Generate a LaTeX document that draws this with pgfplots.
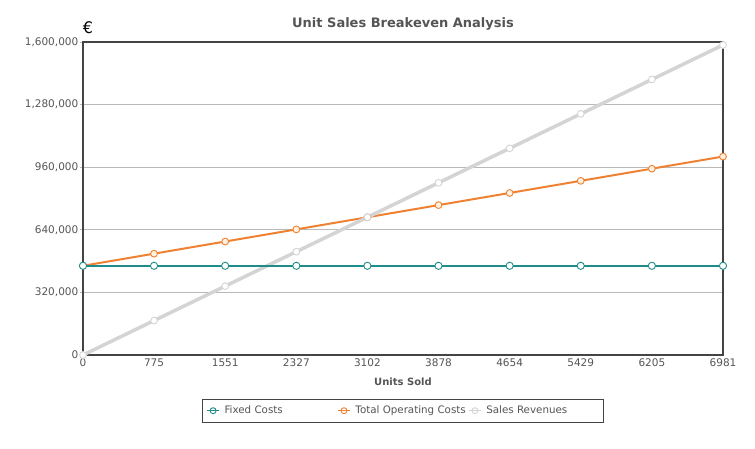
\documentclass[border=0pt]{standalone}
\usepackage{pgfplots}
\pgfplotsset{compat=1.18}
\usepackage{fontspec}
\setmainfont{DejaVu Sans}
\definecolor{teal1}{HTML}{1E8C8A}
\definecolor{orange1}{HTML}{EF8232}
\definecolor{gray1}{HTML}{D4D4D4}
\definecolor{txt}{HTML}{555555}
\definecolor{frame}{HTML}{444444}
\begin{document}
\begin{tikzpicture}[x=1pt,y=1pt]
\path[use as bounding box] (0,0) rectangle (755,448);
\begin{axis}[
  at={(83pt,93pt)}, anchor=south west,
  width=640pt, height=313pt, scale only axis,
  xmin=0, xmax=6981, ymin=0, ymax=1600000,
  xtick={0,775,1551,2327,3102,3878,4654,5429,6205,6981},
  xticklabels={0,775,1551,2327,3102,3878,4654,5429,6205,6981},
  ytick={0,320000,640000,960000,1280000,1600000},
  yticklabels={0,{320,000},{640,000},{960,000},{1,280,000},{1,600,000}},
  scaled y ticks=false, scaled x ticks=false,
  xtick pos=left, ytick pos=left,
  ymajorgrids,
  grid style={draw=gray!55, line width=0.8pt},
  axis line style={draw=frame, line width=2.2pt},
  ytick style={draw=gray!55, line width=0.8pt},
  xtick style={draw=none},
  tick align=outside, major tick length=3pt,
  ticklabel style={font=\fontsize{10.5}{12}\selectfont, text=txt},
  xticklabel style={inner sep=1pt},
  yticklabel style={inner sep=1.5pt},
  xlabel={\bfseries Units Sold},
  xlabel style={font=\fontsize{10}{12}\selectfont, text=txt, yshift=-6pt},
  clip=false,
  legend style={at={(0.5,-0.178)}, anchor=center, draw=frame, line width=0.8pt,
    font=\fontsize{10.3}{12}\selectfont, text=txt, inner xsep=4pt, inner ysep=5pt,
    legend columns=3, /tikz/every odd column/.append style={column sep=3pt}},
  legend cell align=left,
  legend image code/.code={\draw[mark repeat=2,mark phase=2,#1] plot coordinates {(0pt,0pt) (6pt,0pt) (12pt,0pt)};},
]
\addplot[orange1, line width=2pt, mark=*, mark size=3.4pt, mark options={fill=orange!12, draw=orange1, line width=0.9pt}, forget plot] coordinates {
(0,456000) (775,518000) (1551,580080) (2327,642160) (3102,704160) (3878,766240) (4654,828320) (5429,890320) (6205,952400) (6981,1014480)};
\addplot[gray1, line width=3.5pt, mark=*, mark size=3.4pt, mark options={fill=white, draw=gray1, line width=0.9pt}, forget plot] coordinates {
(0,0) (775,175925) (1551,352077) (2327,528229) (3102,704154) (3878,880306) (4654,1056458) (5429,1232383) (6205,1408535) (6981,1584687)};
\addplot[teal1, line width=2.5pt, mark=*, mark size=3.6pt, mark options={fill=white, draw=teal1, line width=0.9pt}, forget plot] coordinates {
(0,456000) (775,456000) (1551,456000) (2327,456000) (3102,456000) (3878,456000) (4654,456000) (5429,456000) (6205,456000) (6981,456000)};
\addlegendimage{teal1, line width=0.9pt, mark=o, mark size=3pt}
\addlegendentry{\makebox[111pt][l]{Fixed Costs}}
\addlegendimage{orange1, line width=0.9pt, mark=o, mark size=3pt}
\addlegendentry{\makebox[111pt][l]{Total Operating Costs}}
\addlegendimage{gray1, line width=0.9pt, mark=o, mark size=3pt}
\addlegendentry{\makebox[111pt][l]{Sales Revenues}}
\end{axis}
\node[font=\fontsize{13}{15}\selectfont\bfseries, text=txt] at (403,424) {Unit Sales Breakeven Analysis};
\node[font=\fontsize{16}{18}\selectfont] at (88,420) {€};
\end{tikzpicture}
\end{document}
